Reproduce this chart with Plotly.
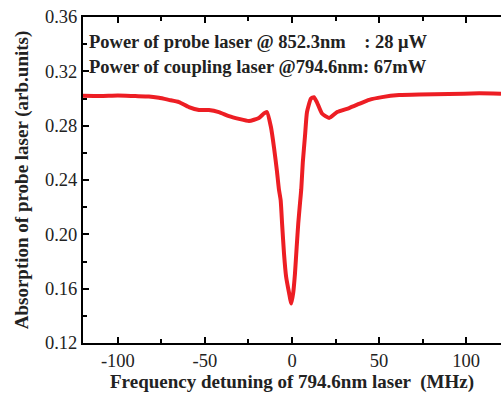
import plotly.graph_objects as go

# Detuning of the 794.6 nm coupling laser (MHz) and probe absorption (arb. units)
detuning = [-120, -110, -100, -90, -82.2, -76.4, -70.7, -64.9, -59.2, -53.4, -47.7,
            -42.0, -36.2, -30.5, -24.7, -19.0, -16.1, -14.4, -12.1, -10.3, -8.6,
            -7.5, -6.5, -5.7, -4.6, -3.4, -1.7, -0.4, 0.7, 1.7, 2.7, 3.6, 4.6,
            5.3, 6.2, 7.5, 8.6, 10.9, 12.6, 14.4, 17.2, 21.3, 25.9, 32.8, 38.5,
            44.3, 51.7, 61.5, 73.0, 90.0, 107.5, 120]
absorption = [0.3020, 0.3018, 0.3022, 0.3018, 0.3015, 0.3005, 0.2990, 0.2974, 0.2937, 0.2915, 0.2915,
              0.2900, 0.2870, 0.2850, 0.2834, 0.2857, 0.2890, 0.2900, 0.2790, 0.2636, 0.2460,
              0.2330, 0.2250, 0.2080, 0.1860, 0.1690, 0.1570, 0.1490, 0.1570, 0.1710, 0.1910, 0.2080, 0.2230,
              0.2330, 0.2530, 0.2730, 0.2900, 0.3000, 0.3010, 0.2970, 0.2890, 0.2857, 0.2900, 0.2930, 0.2960,
              0.2990, 0.3010, 0.3025, 0.3030, 0.3033, 0.3038, 0.3035]

x_ticks = [-100, -50, 0, 50, 100]
y_ticks = [0.12, 0.16, 0.20, 0.24, 0.28, 0.32, 0.36]

label_lines = ["Power of probe laser @ 852.3nm    : 28 \u03bcW",
               "Power of coupling laser @794.6nm: 67mW"]

serif = "Liberation Serif, Times New Roman, serif"

fig = go.Figure()
fig.add_trace(go.Scatter(
    x=detuning, y=absorption, mode="lines",
    line=dict(color="rgb(237,30,36)", width=4, shape="spline", smoothing=0.5),
    showlegend=False,
))

axis_common = dict(
    showgrid=False, zeroline=False,
    showline=True, linecolor="black", linewidth=2,
    ticks="inside", tickwidth=2, ticklen=6, tickcolor="black",
    tickfont=dict(family=serif, size=18.5, color="#222"),
)

fig.update_xaxes(
    range=[-120, 120], tickvals=x_ticks,
    ticktext=[str(v) for v in x_ticks],
    mirror="ticks",
    minor=dict(ticks="inside", ticklen=4, tickwidth=2, tickcolor="black",
               tickvals=[-75, -25, 25, 75]),
    title=dict(text="<b>Frequency detuning of 794.6nm laser  (MHz)</b>",
               font=dict(family=serif, size=19, color="#222"), standoff=3),
    **axis_common,
)
fig.update_yaxes(
    range=[0.12, 0.36], tickvals=y_ticks,
    ticktext=[f"{v:.2f}" for v in y_ticks],
    mirror=False,
    minor=dict(ticks="inside", ticklen=4, tickwidth=2, tickcolor="black",
               tickvals=[0.14, 0.18, 0.22, 0.26, 0.30, 0.34]),
    title=dict(text="<b>Absorption of probe laser (arb.units)</b>",
               font=dict(family=serif, size=19, color="#222"), standoff=11),
    **axis_common,
)

for i, txt in enumerate(label_lines):
    fig.add_annotation(
        x=0.01, y=0.923 - i * 0.077, xref="paper", yref="paper",
        xanchor="left", yanchor="middle", showarrow=False,
        text=f"<b>{txt}</b>",
        font=dict(family=serif, size=18.5, color="#222"),
    )

fig.update_layout(
    width=501, height=397,
    margin=dict(l=83, r=0, t=17, b=54),
    plot_bgcolor="white", paper_bgcolor="white",
)

fig.write_html("out.html")
